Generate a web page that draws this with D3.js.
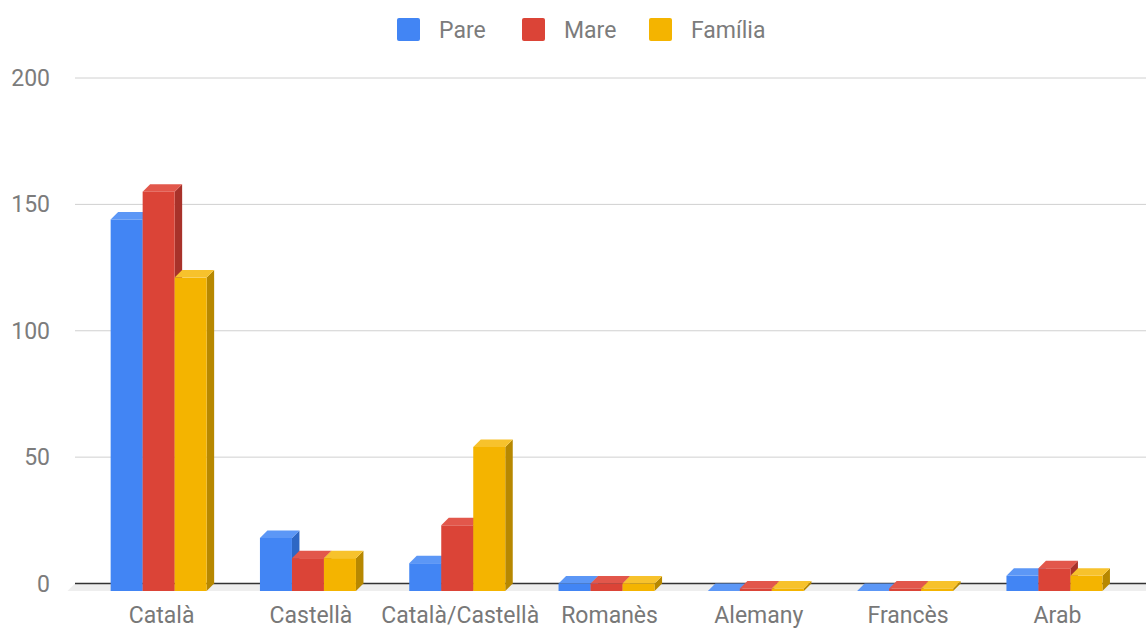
<!DOCTYPE html>
<head>
  <meta charset="utf-8">
  <script src="https://d3js.org/d3.v7.min.js"></script>
  <style>
    body { margin:0; background:#fff; }
    text { font-family: Roboto, "Noto Sans", sans-serif; }
  </style>
</head>
<body>
  <script>
    // data
    const categories = ["Català", "Castellà", "Català/Castellà", "Romanès", "Alemany", "Francès", "Arab"];
    const seriesNames = ["Pare", "Mare", "Família"];
    const pare    = [147, 21, 11, 3, 0, 0, 6];
    const mare    = [158, 13, 26, 3, 1, 1, 9];
    const familia = [124, 13, 57, 3, 1, 1, 6];
    const yTicks = [0, 50, 100, 150, 200];

    const width = 1146, height = 628;
    const depth = 7.5; // fake 3d offset
    const colors = [
      {front: "#4285f4", top: "#5c97f6", side: "#2e67c4"},
      {front: "#db4437", top: "#e2574b", side: "#a8322a"},
      {front: "#f4b400", top: "#f7c22c", side: "#b78800"}
    ];
    const series = [pare, mare, familia];

    const svg = d3.select("body").append("svg")
      .attr("width", width)
      .attr("height", height);

    const y = d3.scaleLinear().domain([0, 200]).range([583.5, 78]);
    const x0 = d3.scaleBand().domain(categories).range([84, 1129.1])
      .paddingInner(0.357).paddingOuter(0.1785);
    const x1 = d3.scaleBand().domain(seriesNames).range([0, x0.bandwidth()]);

    // gridlines (back wall)
    svg.append("g").selectAll("line").data(yTicks.filter(d => d > 0)).enter()
      .append("line")
      .attr("x1", 75).attr("x2", width)
      .attr("y1", d => y(d)).attr("y2", d => y(d))
      .attr("stroke", "#d0d0d0").attr("stroke-width", 1);

    // tick labels
    svg.append("g").selectAll("text").data(yTicks).enter()
      .append("text")
      .attr("x", 50).attr("y", d => y(d))
      .attr("dy", "0.35em")
      .attr("text-anchor", "end")
      .attr("font-size", 23)
      .attr("fill", "#7c7c7c")
      .text(d => d);

    // floor
    const y0 = y(0);
    svg.append("path")
      .attr("d", `M75,${y0} L${width},${y0} L${width},${y0 + depth} L${75 - depth},${y0 + depth} Z`)
      .attr("fill", "#eeeeee");
    svg.append("line")
      .attr("x1", 75).attr("x2", width)
      .attr("y1", y0).attr("y2", y0)
      .attr("stroke", "#333").attr("stroke-width", 1.5);

    // bars, drawn left to right so later fronts cover earlier sides
    const bars = svg.append("g");
    categories.forEach((c, i) => {
      seriesNames.forEach((s, j) => {
        const v = series[j][i];
        const bx = x0(c) + x1(s);
        const bw = x1.bandwidth();
        const yf = y(v) + depth;      // front top
        const yb = y(0) + depth;      // front bottom
        const g = bars.append("g");
        // side face
        g.append("path")
          .attr("d", `M${bx + bw},${yf} L${bx + bw + depth},${yf - depth} L${bx + bw + depth},${yb - depth} L${bx + bw},${yb} Z`)
          .attr("fill", colors[j].side);
        // front face
        g.append("rect")
          .attr("x", bx).attr("y", yf)
          .attr("width", bw).attr("height", Math.max(0, yb - yf))
          .attr("fill", colors[j].front);
        // top face
        g.append("path")
          .attr("d", `M${bx},${yf} L${bx + bw},${yf} L${bx + bw + depth},${yf - depth} L${bx + depth},${yf - depth} Z`)
          .attr("fill", colors[j].top);
      });
    });

    // category labels
    svg.append("g").selectAll("text").data(categories).enter()
      .append("text")
      .attr("x", d => x0(d) + x0.bandwidth() / 2 + 3)
      .attr("y", 623)
      .attr("text-anchor", "middle")
      .attr("font-size", 23)
      .attr("fill", "#787878")
      .text(d => d);

    // legend
    const legendX = [397, 522, 649];
    const legend = svg.append("g");
    seriesNames.forEach((s, j) => {
      legend.append("rect")
        .attr("x", legendX[j]).attr("y", 18)
        .attr("width", 23).attr("height", 23)
        .attr("rx", 2)
        .attr("fill", colors[j].front);
      legend.append("text")
        .attr("x", legendX[j] + 42).attr("y", 29.5)
        .attr("dy", "0.35em")
        .attr("font-size", 23)
        .attr("fill", "#7c7c7c")
        .text(s);
    });
  </script>
</body>
</html>
